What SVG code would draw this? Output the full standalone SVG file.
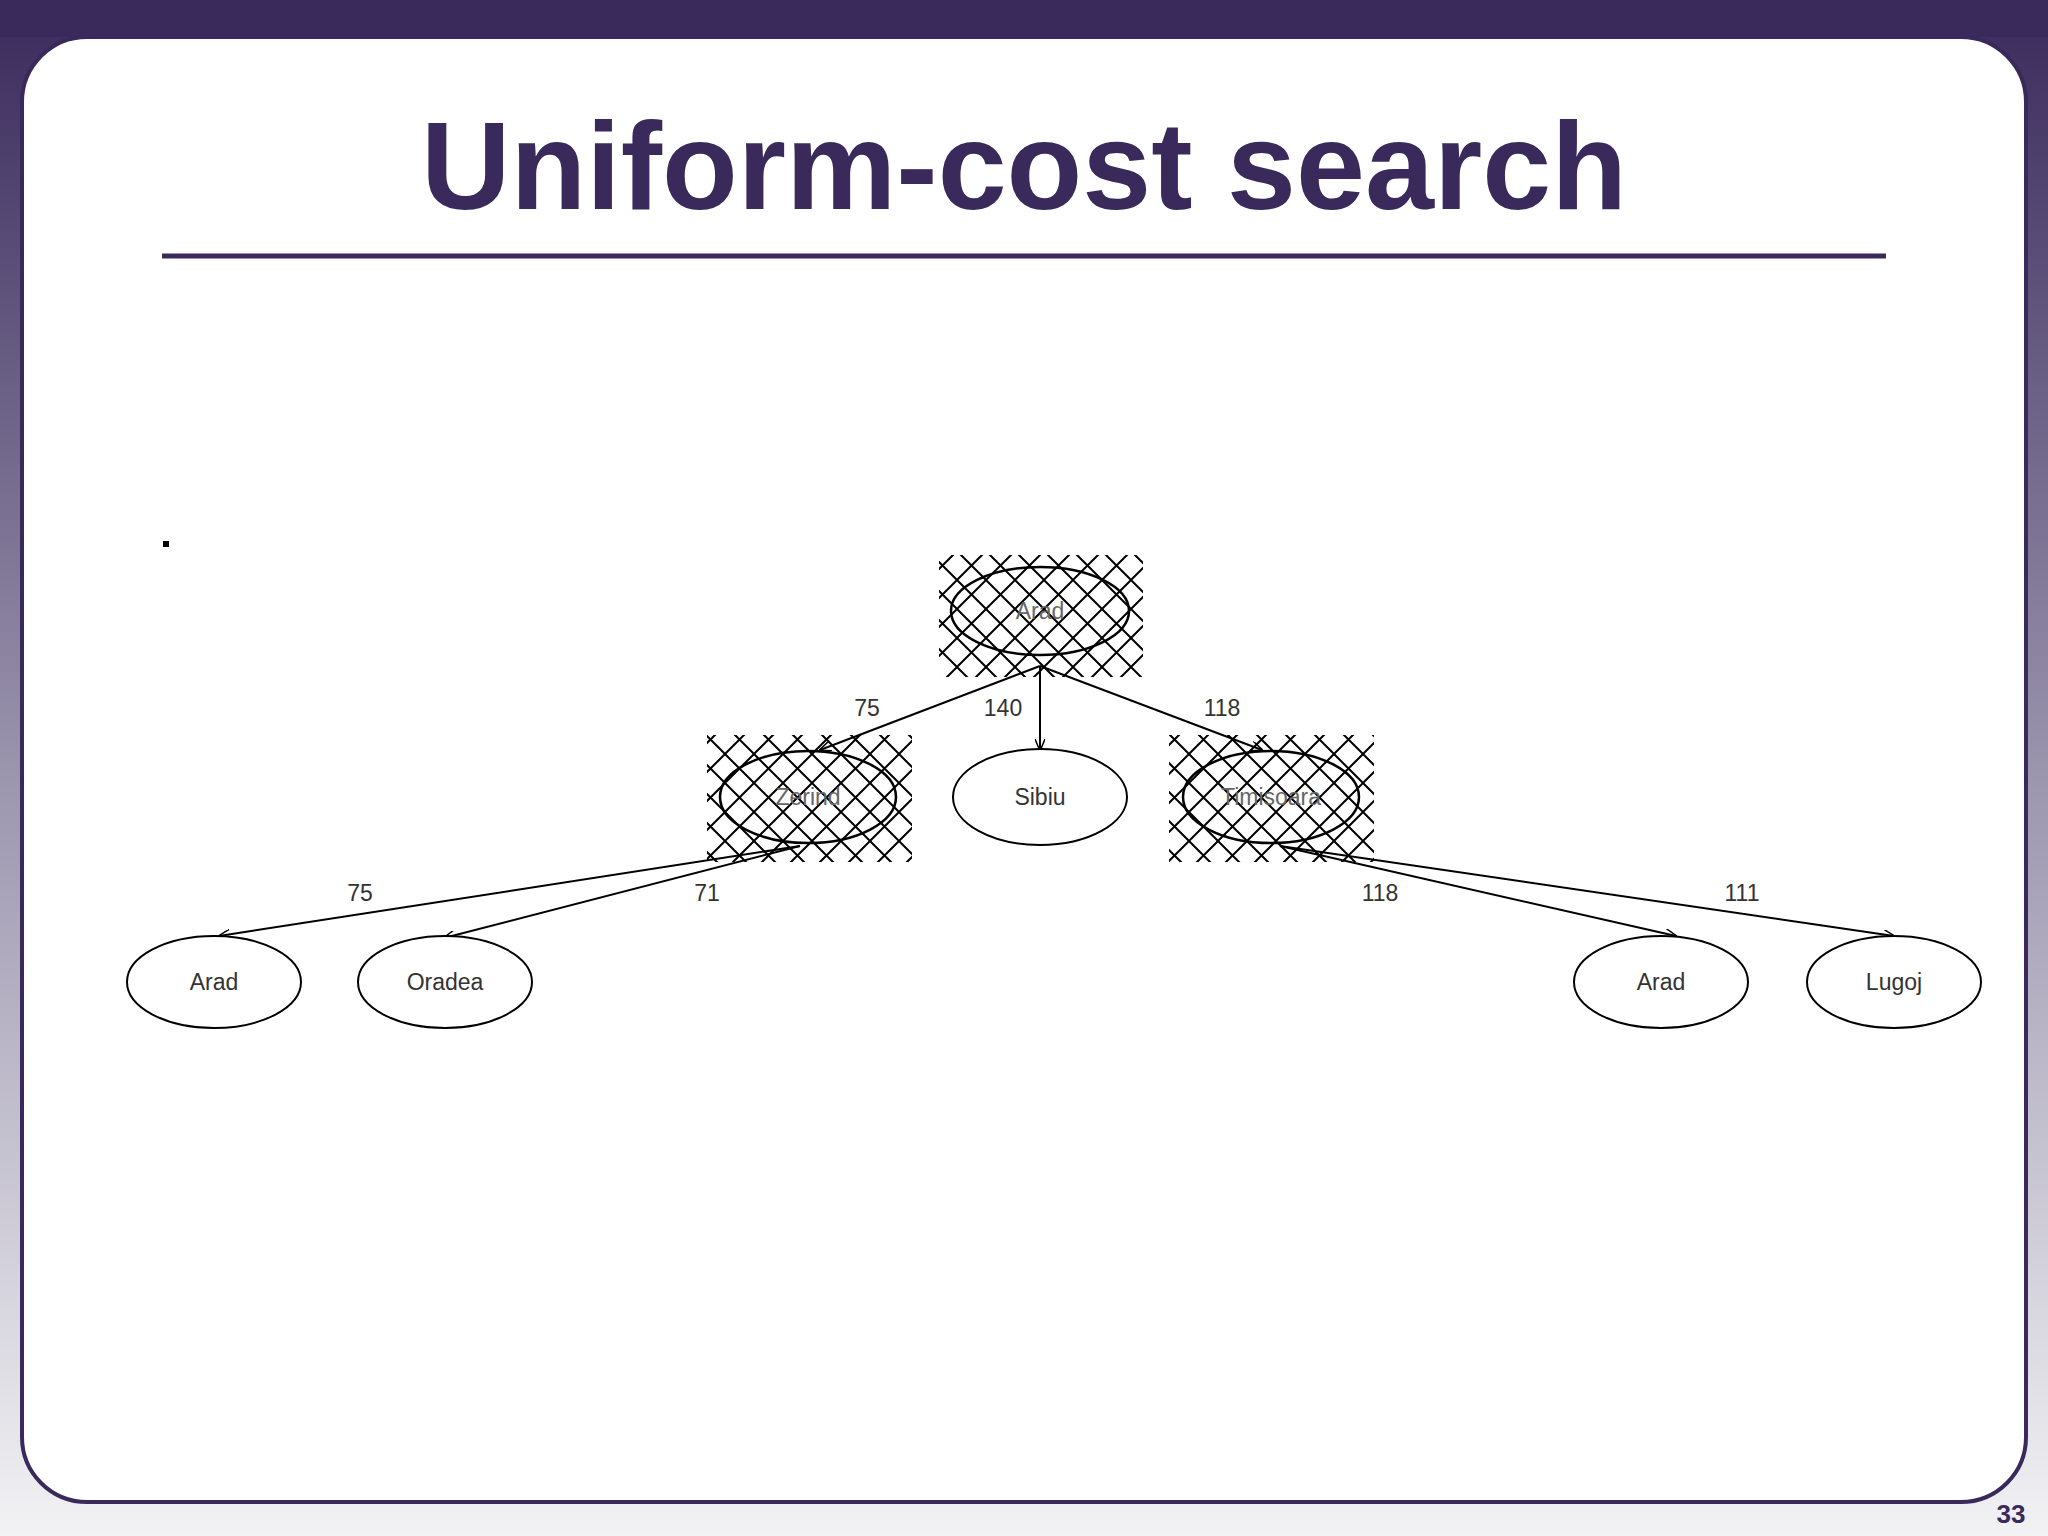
<svg xmlns="http://www.w3.org/2000/svg" width="2048" height="1536" viewBox="0 0 2048 1536">
<defs>
<linearGradient id="bg" x1="0" y1="0" x2="0" y2="1">
<stop offset="0" stop-color="#3a2a5c"/><stop offset="0.5" stop-color="#9a94ad"/><stop offset="1" stop-color="#f2f2f4"/>
</linearGradient>
<pattern id="hatch" width="29" height="29" patternUnits="userSpaceOnUse">
<path d="M0 0L29 29M29 0L0 29" stroke="#000" stroke-width="2"/>
</pattern>
<marker id="ah" markerWidth="12" markerHeight="10" refX="11" refY="5" orient="auto" markerUnits="userSpaceOnUse">
<path d="M0 0L12 5L0 10" fill="none" stroke="#000" stroke-width="1.5"/>
</marker>
<style>
.node{fill:#fff;stroke:#000;stroke-width:2}
.hn{fill:none;stroke:#000;stroke-width:2.5}
.lbl{font-family:"Liberation Sans",Arial,sans-serif;font-size:23px;fill:#333;text-anchor:middle}
.hl{font-family:"Liberation Sans",Arial,sans-serif;font-size:23px;fill:#666;text-anchor:middle}
.edge{stroke:#000;stroke-width:2;fill:none;marker-end:url(#ah)}
</style>
</defs>
<rect width="2048" height="1536" fill="url(#bg)"/>
<rect x="0" y="0" width="2048" height="37" fill="#3a2a5c"/>
<rect x="22" y="37" width="2004" height="1465" rx="65" fill="#fff" stroke="#3a2a5c" stroke-width="4"/>
<text x="1024" y="209" text-anchor="middle" font-family="Liberation Sans,Arial,sans-serif" font-weight="bold" font-size="124" fill="#3a2a5c">Uniform-cost search</text>
<line x1="162" y1="256" x2="1886" y2="256" stroke="#3a2a5c" stroke-width="5"/>
<rect x="163" y="541" width="6" height="6" fill="#000"/>
<text x="2011" y="1523" text-anchor="middle" font-family="Liberation Sans,Arial,sans-serif" font-weight="bold" font-size="26" fill="#3a2a5c">33</text>

<g id="edges">
<line class="edge" x1="1040" y1="666" x2="820" y2="750"/>
<line class="edge" x1="1040" y1="666" x2="1040" y2="750"/>
<line class="edge" x1="1040" y1="666" x2="1262" y2="750"/>
<line class="edge" x1="800" y1="846" x2="219" y2="936"/>
<line class="edge" x1="800" y1="846" x2="444" y2="938"/>
<line class="edge" x1="1280" y1="846" x2="1676" y2="936"/>
<line class="edge" x1="1280" y1="846" x2="1894" y2="936"/>
<text class="lbl" x="867" y="716">75</text>
<text class="lbl" x="1003" y="716">140</text>
<text class="lbl" x="1222" y="716">118</text>
<text class="lbl" x="360" y="901">75</text>
<text class="lbl" x="707" y="901">71</text>
<text class="lbl" x="1380" y="901">118</text>
<text class="lbl" x="1742" y="901">111</text>
</g>

<g id="n-arad-root">
<rect x="939" y="555" width="204" height="122" fill="url(#hatch)"/>
<ellipse class="hn" cx="1040" cy="611" rx="89" ry="44"/>
<text class="hl" x="1040" y="619">Arad</text>
</g>
<g id="n-zerind">
<rect x="707" y="735" width="205" height="127" fill="url(#hatch)"/>
<ellipse class="hn" cx="808" cy="797" rx="88" ry="46"/>
<text class="hl" x="808" y="805">Zerind</text>
</g>
<g id="n-sibiu">
<ellipse class="node" cx="1040" cy="797" rx="87" ry="48"/>
<text class="lbl" x="1040" y="805">Sibiu</text>
</g>
<g id="n-timisoara">
<rect x="1169" y="735" width="205" height="127" fill="url(#hatch)"/>
<ellipse class="hn" cx="1271" cy="797" rx="88" ry="46"/>
<text class="hl" x="1271" y="805">Timisoara</text>
</g>
<g id="n-arad-1">
<ellipse class="node" cx="214" cy="982" rx="87" ry="46"/>
<text class="lbl" x="214" y="990">Arad</text>
</g>
<g id="n-oradea">
<ellipse class="node" cx="445" cy="982" rx="87" ry="46"/>
<text class="lbl" x="445" y="990">Oradea</text>
</g>
<g id="n-arad-2">
<ellipse class="node" cx="1661" cy="982" rx="87" ry="46"/>
<text class="lbl" x="1661" y="990">Arad</text>
</g>
<g id="n-lugoj">
<ellipse class="node" cx="1894" cy="982" rx="87" ry="46"/>
<text class="lbl" x="1894" y="990">Lugoj</text>
</g>
</svg>
